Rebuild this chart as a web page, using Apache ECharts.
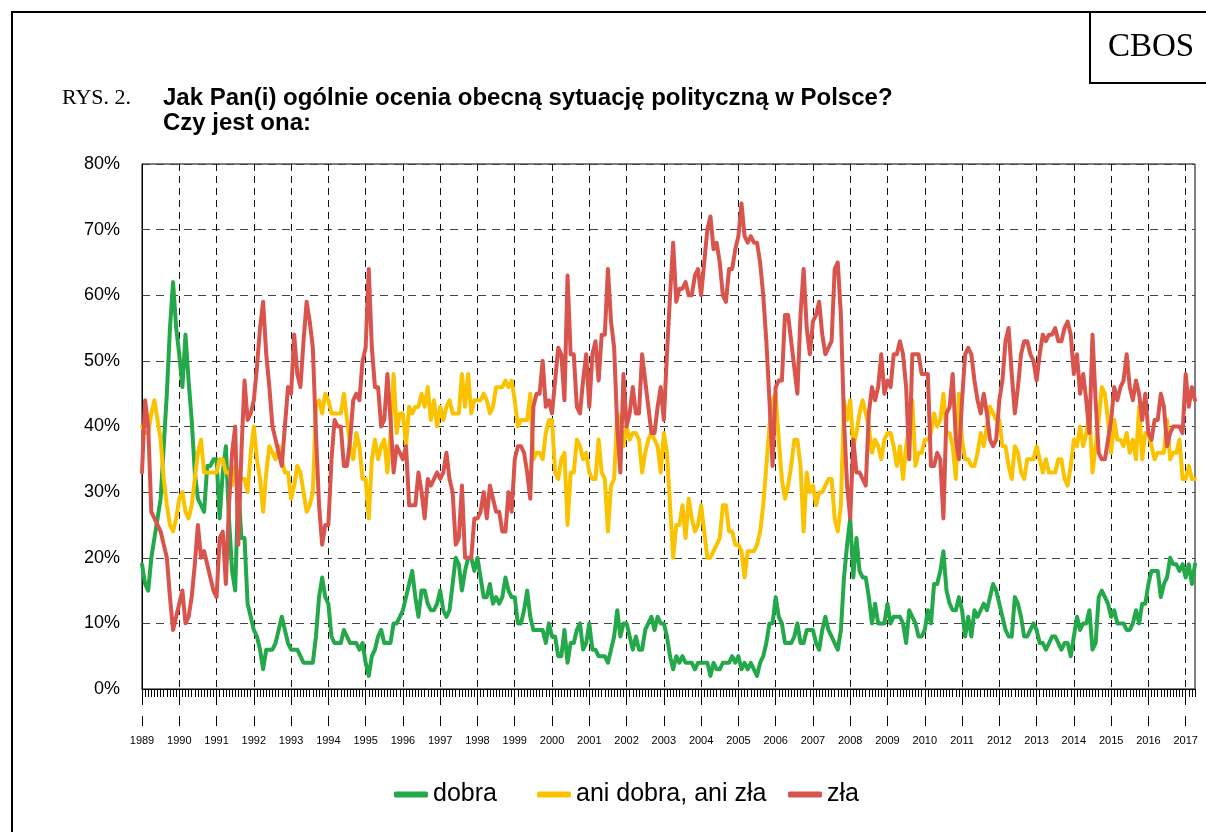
<!DOCTYPE html>
<html><head><meta charset="utf-8">
<script src="https://cdn.jsdelivr.net/npm/echarts@6/dist/echarts.min.js"></script>
<style>html,body{margin:0;padding:0;background:#fff}#c{width:1206px;height:832px}</style>
</head><body><div id="c"></div>
<script>
const startYear = 1989;
const monthCount = 340;
const seriesNames = ['dobra', 'ani dobra, ani zła', 'zła'];

const green = [
19,16,15,20,23,26,29,37,45,55,62,55,
51,46,54,47,41,33,29,28,27,34,34,35,
35,26,33,37,26,18,15,31,23,23,13,11,
9,8,6,3,6,6,6,7,9,11,9,7,
6,6,6,5,4,4,4,4,8,14,17,14,
13,8,7,7,7,9,8,7,7,7,6,7,
4,2,5,6,8,9,7,7,7,10,10,11,
12,14,16,18,14,11,15,15,13,12,12,13,
15,12,11,12,16,20,19,15,18,20,20,18,
20,17,14,14,16,13,14,13,14,17,15,14,
14,10,10,12,15,11,9,9,9,9,7,10,
8,8,5,5,9,4,7,7,9,10,6,7,
10,6,6,5,5,5,4,6,8,12,8,10,
10,8,6,8,6,6,9,10,11,9,11,10,
10,8,5,3,5,4,5,4,4,4,3,4,
4,4,4,2,4,3,3,4,4,4,5,4,
5,3,4,3,4,3,2,4,5,7,10,10,
14,11,10,7,7,7,8,10,7,7,9,9,
9,7,6,9,11,9,8,7,6,9,17,22,
26,17,23,18,17,17,14,10,13,10,10,10,
13,10,11,11,11,10,7,12,11,10,8,8,
9,12,10,16,16,18,21,15,13,12,12,14,
12,8,11,8,12,11,12,13,12,14,16,15,
13,11,9,8,8,14,13,11,8,8,9,10,
9,7,7,6,7,8,8,7,6,7,7,5,
8,11,9,10,10,12,6,7,14,15,14,13,
11,12,10,10,10,9,9,10,12,10,13,13,
16,18,18,18,14,16,17,20,19,19,18,19,
17,19,16,19];

const yellow = [
40,39,39,42,44,41,38,32,28,25,24,26,
29,30,27,26,28,32,36,38,33,33,33,33,
33,35,35,33,33,31,34,33,32,32,30,36,
40,35,32,27,33,37,36,35,37,35,33,33,
29,31,34,33,30,27,28,30,43,44,42,45,
44,42,42,42,42,45,41,37,35,39,37,32,
32,26,35,38,35,37,38,33,39,48,39,42,
42,37,43,42,43,43,45,43,46,41,44,40,
43,41,43,44,42,42,42,48,43,48,42,44,
44,44,45,44,42,43,46,46,46,47,46,47,
44,40,41,41,41,45,35,36,36,35,39,41,
41,33,32,35,36,25,33,33,38,37,35,36,
33,32,32,38,33,32,24,31,32,42,41,37,
40,38,39,39,38,33,36,38,39,38,37,33,
39,36,28,20,25,25,28,23,29,26,24,25,
28,24,20,20,21,22,23,28,28,24,24,22,
22,21,17,21,21,21,22,24,28,34,40,44,
45,38,32,29,31,34,38,38,34,24,33,30,
31,28,30,30,31,32,32,26,24,28,44,41,
44,37,39,42,44,42,40,36,38,37,35,38,
39,39,37,34,37,32,37,40,44,34,36,36,
38,38,39,42,40,41,45,39,39,37,32,45,
38,35,35,34,34,36,39,37,40,43,42,41,
41,37,37,34,32,37,36,33,32,35,35,35,
37,35,33,35,33,33,33,35,35,32,31,34,
38,37,40,37,39,42,33,37,41,46,45,41,
36,41,38,38,37,39,36,38,35,43,35,39,
39,37,35,36,36,36,41,35,36,36,38,32,
32,34,32,32];

const red = [
33,44,40,27,26,25,24,22,20,14,9,11,
13,15,10,11,14,19,25,20,21,19,17,15,
14,23,24,16,28,36,40,22,36,47,41,42,
44,49,55,59,51,46,40,38,36,34,40,46,
45,54,48,46,53,59,56,52,39,28,22,25,
25,35,41,40,40,34,34,38,44,45,44,50,
52,64,52,46,46,40,41,48,41,33,37,36,
35,37,28,28,28,33,30,26,32,31,32,33,
32,33,36,32,30,22,23,31,20,20,20,26,
26,27,30,26,31,29,27,27,24,24,30,27,
35,37,37,36,33,29,43,45,45,50,43,44,
42,47,52,51,44,63,51,51,43,42,47,51,
43,51,53,47,54,54,64,56,52,40,33,48,
40,42,46,42,42,51,47,43,39,39,43,46,
41,51,60,68,59,61,61,62,60,60,63,64,
60,65,70,72,67,68,65,60,59,64,64,67,
69,74,69,68,69,68,68,65,60,53,44,34,
46,47,47,57,57,53,49,45,57,64,55,51,
56,57,59,54,51,52,53,64,65,57,41,31,
26,38,33,33,32,31,42,46,44,46,51,45,
47,46,51,51,53,51,46,35,51,51,51,48,
48,48,34,34,36,35,26,42,43,48,38,35,
44,51,52,51,47,44,42,45,42,38,37,38,
44,47,53,55,48,42,46,51,53,53,51,50,
47,51,54,53,54,54,55,53,53,55,56,54,
48,51,45,48,44,39,54,44,36,35,35,38,
41,46,44,46,47,51,46,44,47,45,41,45,
39,38,41,41,45,43,37,39,40,40,40,39,
48,43,46,44];

const months = [];
for (let i = 0; i < monthCount; i++) {
  const y = startYear + Math.floor(i / 12);
  const m = (i % 12) + 1;
  months.push(y + '-' + (m < 10 ? '0' : '') + m);
}

const SANS = '"Liberation Sans", Arial, sans-serif';
const SERIF = '"Liberation Serif", "Times New Roman", serif';
const colors = ['#23a84a', '#fbc200', '#d8544c'];
const legendLeft = [394, 537, 788];

const chart = echarts.init(document.getElementById('c'), null, {renderer: 'canvas'});
const baseX = {
  type: 'category', data: months, boundaryGap: false, position: 'bottom'
};
chart.setOption({
  animation: false,
  backgroundColor: '#fff',
  textStyle: {fontFamily: SANS},
  grid: {left: 142, right: 11, top: 164, bottom: 143, show: true, borderColor: '#000', borderWidth: 1},
  xAxis: [
    Object.assign({}, baseX, {
      axisLine: {show: true, lineStyle: {color: '#000', width: 1}},
      axisTick: {show: true, interval: 0, length: 8, lineStyle: {color: '#000', width: 1}},
      axisLabel: {show: false},
      splitLine: {show: true, interval: 11, lineStyle: {color: '#111', width: 1, type: [7, 5]}}
    }),
    Object.assign({}, baseX, {
      axisLine: {show: false},
      axisTick: {show: true, interval: 11, length: 16, lineStyle: {color: '#000', width: 1}},
      axisLabel: {show: false},
      splitLine: {show: false}
    }),
    Object.assign({}, baseX, {
      offset: 27,
      axisLine: {show: false},
      axisTick: {show: true, interval: 11, length: 10, lineStyle: {color: '#000', width: 1}},
      axisLabel: {show: true, interval: 11, formatter: v => v.slice(0, 4), fontSize: 11, color: '#000', margin: 19, fontFamily: SANS},
      splitLine: {show: false}
    })
  ],
  yAxis: {
    type: 'value', min: 0, max: 80, interval: 10,
    axisLine: {show: true, lineStyle: {color: '#000', width: 1}},
    axisTick: {show: false},
    axisLabel: {formatter: '{value}%', fontSize: 18, color: '#000', margin: 22, fontFamily: SANS},
    splitLine: {show: true, lineStyle: {color: '#444', width: 1, type: [8, 6]}}
  },
  legend: seriesNames.map((n, i) => ({
    data: [n], top: 782, left: legendLeft[i],
    icon: 'roundRect', itemWidth: 34, itemHeight: 6, padding: 0,
    textStyle: {fontSize: 25, color: '#000', fontFamily: SANS}
  })),
  graphic: [
    {type: 'rect', shape: {x: 12, y: 12, width: 1300, height: 900}, style: {fill: 'none', stroke: '#000', lineWidth: 2}, silent: true},
    {type: 'polyline', shape: {points: [[1090, 12], [1090, 83], [1215, 83]]}, style: {fill: 'none', stroke: '#000', lineWidth: 2}, silent: true},
    {type: 'text', x: 1151, y: 47, style: {text: 'CBOS', font: '33px ' + SERIF, fill: '#000', align: 'center', verticalAlign: 'middle'}},
    {type: 'text', x: 62, y: 98, style: {text: 'RYS. 2.', font: '22px ' + SERIF, fill: '#000', verticalAlign: 'middle'}},
    {type: 'text', x: 163, y: 98, style: {text: 'Jak Pan(i) ogólnie ocenia obecną sytuację polityczną w Polsce?', font: 'bold 24px ' + SANS, fill: '#000', verticalAlign: 'middle'}},
    {type: 'text', x: 163, y: 123, style: {text: 'Czy jest ona:', font: 'bold 24px ' + SANS, fill: '#000', verticalAlign: 'middle'}}
  ],
  series: [green, yellow, red].map((d, i) => ({
    name: seriesNames[i], type: 'line', data: d, xAxisIndex: 0,
    showSymbol: false, symbol: 'none', smooth: false,
    color: colors[i],
    itemStyle: {color: colors[i]},
    lineStyle: {width: 4, color: colors[i], cap: 'round', join: 'round'},
    emphasis: {disabled: true}, z: 2 + i
  }))
});
</script></body></html>
